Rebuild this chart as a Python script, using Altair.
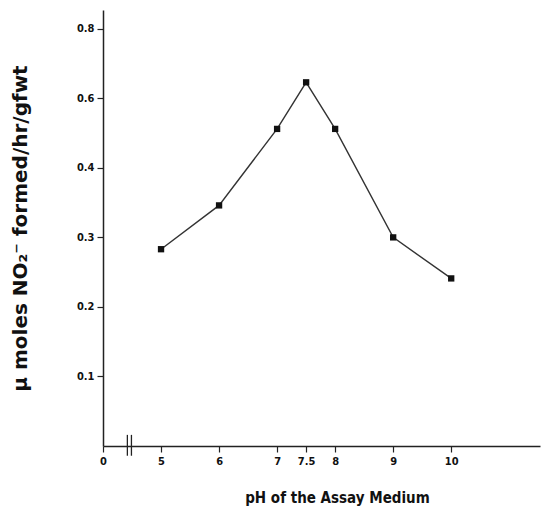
import altair as alt
import pandas as pd

ph = [5, 6, 7, 7.5, 8, 9, 10]
no2 = [0.283, 0.346, 0.456, 0.523, 0.456, 0.300, 0.241]

x_ticks = [4, 5, 6, 7, 7.5, 8, 9, 10]
x_labels = ["0", "5", "6", "7", "7.5", "8", "9", "10"]
y_ticks = [0.1, 0.2, 0.3, 0.4, 0.5, 0.6]
y_labels = ["0.1", "0.2", "0.3", "0.4", "0.6", "0.8"]

break_x = [4.42, 4.49]

df = pd.DataFrame({"ph": ph, "no2": no2})
brk = pd.DataFrame({"x": break_x, "y1": [-0.014] * 2, "y2": [0.016] * 2})

xlab_expr = "{" + ",".join(f"'{v}':'{l}'" for v, l in zip(x_ticks, x_labels)) + "}[toString(datum.value)]"
ylab_expr = "{" + ",".join(f"'{v}':'{l}'" for v, l in zip(y_ticks, y_labels)) + "}[toString(datum.value)]"

font = "'DejaVu Sans Condensed', 'Liberation Sans', sans-serif"

xscale = alt.Scale(domain=[4, 11.53], nice=False, zero=False)
yscale = alt.Scale(domain=[0, 0.627], nice=False)

xaxis = alt.Axis(
    values=x_ticks, labelExpr=xlab_expr, grid=False, domainColor="#222",
    domainWidth=1.5, tickColor="#222", tickSize=6, tickWidth=1.2,
    labelFont=font, labelFontSize=11, labelFontWeight="bold", labelColor="#111",
    labelPadding=3, labelFlush=False,
    title="pH of the Assay Medium", titleFont=font, titleFontSize=15,
    titleFontWeight="bold", titleColor="#111", titleX=234, titleY=51,
    titleAnchor="middle", titleBaseline="middle", titleAlign="center",
)
yaxis = alt.Axis(
    values=y_ticks, labelExpr=ylab_expr, grid=False, domainColor="#222",
    domainWidth=1.5, tickColor="#222", tickSize=6, tickWidth=1.2,
    labelFont=font, labelFontSize=11, labelFontWeight="bold", labelColor="#111",
    labelPadding=3,
    title="\u03bc moles NO\u2082\u207b formed/hr/gfwt", titleFont="'DejaVu Sans', sans-serif",
    titleFontSize=20, titleFontWeight="bold", titleColor="#111",
    titleAngle=-90, titleX=-83, titleY=218, titleAlign="center",
    titleBaseline="middle",
)

line = alt.Chart(df).mark_line(color="#333", strokeWidth=1.4).encode(
    x=alt.X("ph:Q", scale=xscale, axis=xaxis),
    y=alt.Y("no2:Q", scale=yscale, axis=yaxis),
)
pts = alt.Chart(df).mark_square(color="#111", size=40, opacity=1).encode(
    x=alt.X("ph:Q", scale=xscale),
    y=alt.Y("no2:Q", scale=yscale),
)
breaks = alt.Chart(brk).mark_rule(color="#222", strokeWidth=1.3, clip=False).encode(
    x=alt.X("x:Q", scale=xscale),
    y=alt.Y("y1:Q", scale=yscale),
    y2="y2:Q",
)

chart = (
    alt.layer(line, pts, breaks)
    .properties(
        width=437, height=436,
        autosize=alt.AutoSizeParams(type="none"),
        padding={"left": 103, "top": 10, "right": 2, "bottom": 74},
        background="white",
    )
    .configure_view(stroke=None)
)

chart.save("out.html", embed_options={"renderer": "svg", "actions": False})
